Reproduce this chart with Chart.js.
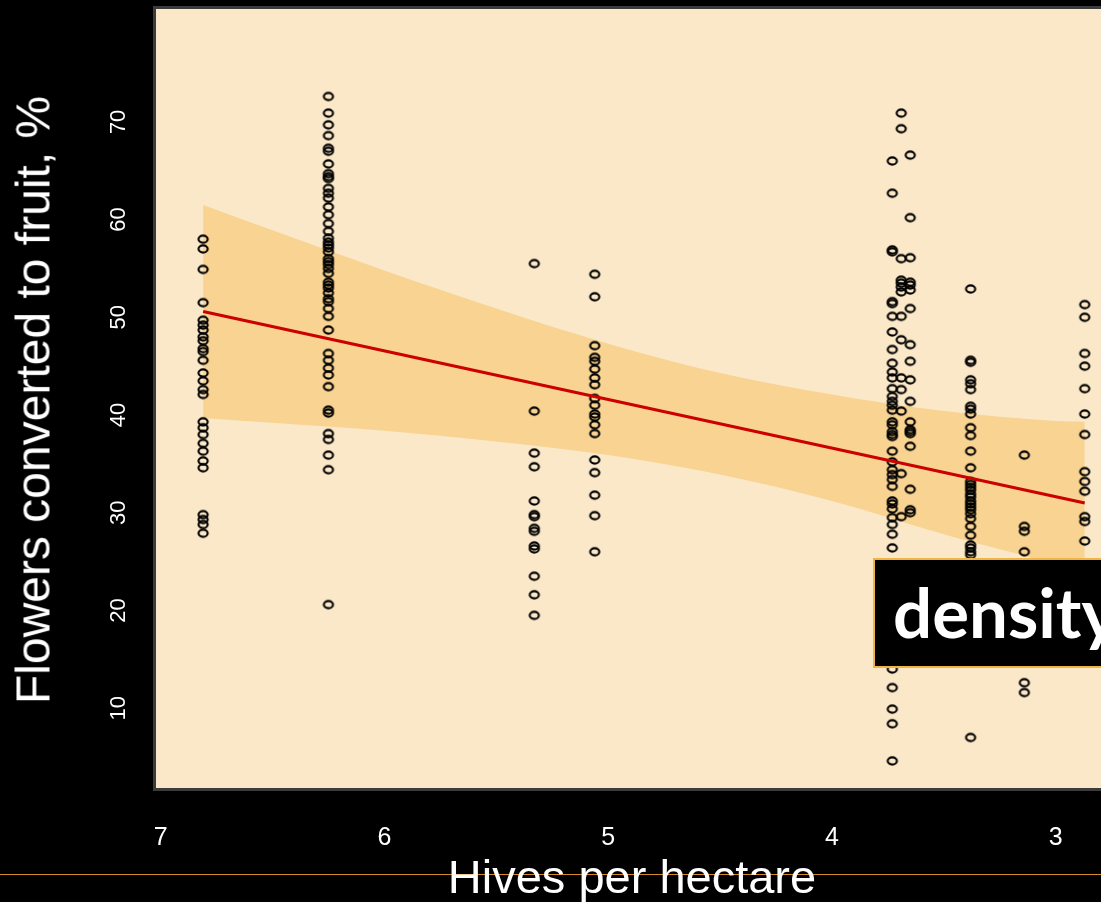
<!DOCTYPE html>
<html>
<head>
<meta charset="utf-8">
<script src="https://cdn.jsdelivr.net/npm/chart.js@4/dist/chart.umd.min.js"></script>
<style>
    html, body { margin: 0; padding: 0; background: #000; overflow: hidden; }
    body { width: 1101px; height: 902px; position: relative; }
    #wrap { position: absolute; left: 0; top: 0; width: 1160px; height: 902px; z-index: 2; }
    .rule { position: absolute; left: 0; top: 874px; width: 1101px; height: 1px; background: #d98a28; z-index: 1; }
    .axis-title { position: absolute; color: #fff; font-family: "Liberation Sans", Arial, sans-serif; font-size: 47px; white-space: nowrap; z-index: 3; }
    #xtitle { left: 632px; top: 876px; transform: translate(-50%, -50%); }
    #ytitle { left: 33px; top: 400px; transform: translate(-50%, -50%) rotate(-90deg); font-size: 48px; }
    #note { position: absolute; left: 873px; top: 558px; width: 260px; height: 106px; background: #000;
            border: 2px solid #f0b445; z-index: 4; color: #fff; font-family: Lato, "Open Sans", sans-serif;
            font-weight: bold; font-size: 69px; line-height: 104px; padding-left: 18px; box-sizing: content-box; }
</style>
</head>
<body>
<div class="rule"></div>
<div id="wrap"><canvas id="chart"></canvas></div>
<div class="axis-title" id="xtitle">Hives per hectare</div>
<div class="axis-title" id="ytitle">Flowers converted to fruit, %</div>
<div id="note">density</div>
<script>
// hive density of each orchard and fruit set (%) of its sampled trees
const hives = [6.81, 6.25, 5.33, 5.06, 3.73, 3.69, 3.65, 3.38, 3.14, 2.87];
const fruitSet = [
    [58.0, 57.0, 54.9, 51.5, 49.7, 49.2, 48.7, 48.0, 47.6, 46.8, 46.5, 45.6, 44.3, 43.5, 42.6, 42.1, 39.3, 38.7, 38.0, 37.1, 36.3, 35.3, 34.6, 29.8, 29.3, 28.8, 27.9],
    [72.6, 70.9, 69.7, 68.6, 67.3, 67.0, 65.7, 64.7, 64.4, 64.2, 63.2, 62.7, 62.2, 61.3, 60.5, 59.6, 58.8, 58.1, 57.7, 57.4, 57.1, 56.7, 56.0, 55.7, 55.4, 55.0, 54.5, 53.6, 53.3, 53.0, 52.5, 51.9, 51.6, 50.9, 50.1, 48.7, 46.3, 45.6, 44.8, 44.1, 42.9, 40.5, 40.2, 38.1, 37.5, 35.9, 34.4, 20.6],
    [55.5, 40.4, 36.1, 34.7, 31.2, 29.8, 29.6, 28.4, 28.1, 26.6, 26.3, 23.5, 21.6, 19.5],
    [54.4, 52.1, 47.1, 45.9, 45.5, 44.7, 43.8, 43.1, 41.7, 41.0, 40.1, 39.8, 39.0, 38.1, 35.4, 34.1, 31.8, 29.7, 26.0],
    [66.0, 62.7, 56.9, 56.7, 51.6, 51.4, 50.1, 48.5, 46.7, 45.3, 44.4, 43.8, 42.7, 41.9, 41.4, 41.0, 40.5, 39.3, 38.3, 37.8, 39.0, 38.0, 36.3, 35.2, 34.4, 33.9, 33.4, 32.7, 31.2, 30.9, 30.4, 29.5, 28.8, 27.8, 26.4, 14.0, 12.1, 9.9, 8.4, 4.6],
    [70.9, 69.3, 56.0, 53.8, 53.5, 53.1, 52.6, 50.1, 47.7, 43.8, 42.6, 40.4, 34.0, 29.6],
    [66.6, 60.2, 56.1, 53.6, 53.3, 52.8, 50.9, 47.2, 45.5, 43.6, 41.4, 39.3, 38.3, 38.5, 38.1, 36.8, 32.4, 30.3, 30.0],
    [52.9, 45.6, 45.4, 43.6, 43.2, 42.6, 40.9, 40.6, 40.1, 38.7, 37.9, 36.3, 34.6, 33.2, 32.9, 32.6, 32.3, 31.9, 31.6, 31.2, 30.9, 30.6, 30.3, 29.9, 29.4, 28.6, 27.7, 26.7, 26.4, 26.0, 25.7, 7.0],
    [35.9, 28.6, 28.1, 26.0, 12.6, 11.6],
    [51.3, 50.0, 46.3, 45.0, 42.7, 40.1, 38.0, 34.2, 33.2, 32.2, 29.6, 29.1, 27.1]
];

// fitted line and confidence band
const fitX = [6.81, 2.87];
const fitY = [50.6, 31.0];
const bandX = [6.81, 6.5, 6.0, 5.5, 5.0, 4.5, 4.0, 3.5, 3.0, 2.87];
const bandUpper = [61.5, 58.9, 54.8, 50.9, 47.3, 44.3, 42.1, 40.4, 39.4, 39.3];
const bandLower = [39.7, 39.2, 38.4, 37.3, 35.9, 33.9, 31.2, 27.8, 24.6, 23.4];

const xTicks = [3, 4, 5, 6, 7];
const yTicks = [10, 20, 30, 40, 50, 60, 70];

const plotBg = '#fae8c8';
const bandColor = '#f8d391';

// small open ellipse used as the point marker
function makeMarker() {
    const c = document.createElement('canvas');
    c.width = 14;
    c.height = 12;
    const g = c.getContext('2d');
    g.strokeStyle = '#000';
    g.lineWidth = 2.1;
    g.beginPath();
    g.ellipse(7, 6, 4.6, 3.6, 0, 0, Math.PI * 2);
    g.stroke();
    return c;
}
const marker = makeMarker();

const points = [];
hives.forEach((h, i) => {
    fruitSet[i].forEach(v => points.push({ x: h, y: v }));
});

const frame = {
    id: 'frame',
    beforeDraw(chart) {
        const { ctx, chartArea: a } = chart;
        ctx.save();
        ctx.fillStyle = plotBg;
        ctx.fillRect(a.left, a.top, a.right - a.left, a.bottom - a.top);
        ctx.restore();
    },
    afterDraw(chart) {
        const { ctx, chartArea: a } = chart;
        ctx.save();
        ctx.strokeStyle = '#3c3c3c';
        ctx.lineWidth = 3;
        ctx.strokeRect(a.left + 1.5, a.top + 1.5, a.right - a.left - 3, a.bottom - a.top - 3);
        // rotated y tick labels, as R draws them
        const ys = chart.scales.y;
        ctx.fillStyle = '#fff';
        ctx.font = '22px "Liberation Sans", Arial, sans-serif';
        ctx.textAlign = 'center';
        ctx.textBaseline = 'middle';
        yTicks.forEach(t => {
            ctx.save();
            ctx.translate(119, ys.getPixelForValue(t));
            ctx.rotate(-Math.PI / 2);
            ctx.fillText(String(t), 0, 0);
            ctx.restore();
        });
        ctx.restore();
    }
};

new Chart(document.getElementById('chart'), {
    type: 'scatter',
    data: {
        datasets: [
            {
                type: 'line',
                data: bandX.map((x, i) => ({ x: x, y: bandUpper[i] })),
                borderWidth: 0,
                pointRadius: 0,
                cubicInterpolationMode: 'monotone',
                backgroundColor: bandColor,
                fill: '+1',
                order: 3
            },
            {
                type: 'line',
                data: bandX.map((x, i) => ({ x: x, y: bandLower[i] })),
                borderWidth: 0,
                pointRadius: 0,
                cubicInterpolationMode: 'monotone',
                fill: false,
                order: 3
            },
            {
                data: points,
                pointStyle: marker,
                pointRadius: 5,
                order: 2
            },
            {
                type: 'line',
                data: fitX.map((x, i) => ({ x: x, y: fitY[i] })),
                borderColor: '#cc0000',
                borderWidth: 3.2,
                pointRadius: 0,
                fill: false,
                order: 1
            }
        ]
    },
    options: {
        responsive: true,
        maintainAspectRatio: false,
        animation: false,
        layout: { padding: { top: 4, right: 20, left: 0, bottom: 0 } },
        plugins: {
            legend: { display: false },
            tooltip: { enabled: false }
        },
        scales: {
            x: {
                type: 'linear',
                reverse: true,
                min: 2.623,
                max: 7.034,
                afterBuildTicks: scale => { scale.ticks = xTicks.map(v => ({ value: v })); },
                afterFit: scale => { scale.height = 111; },
                grid: { display: false, drawTicks: false },
                border: { display: false },
                ticks: {
                    color: '#fff',
                    padding: 32,
                    font: { family: '"Liberation Sans", Arial, sans-serif', size: 25 }
                }
            },
            y: {
                type: 'linear',
                min: 1.52,
                max: 81.86,
                afterBuildTicks: scale => { scale.ticks = yTicks.map(v => ({ value: v })); },
                afterFit: scale => { scale.width = 153; },
                grid: { display: false },
                border: { display: false },
                ticks: { display: false }
            }
        }
    },
    plugins: [frame]
});
</script>
</body>
</html>
